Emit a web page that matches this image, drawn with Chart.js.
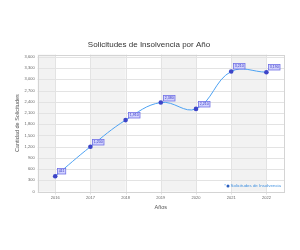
<!DOCTYPE html>
<html><head><meta charset="utf-8">
<script src="https://cdn.jsdelivr.net/npm/chart.js@4.4.0/dist/chart.umd.min.js"></script>
<style>html,body{margin:0;padding:0;background:#fff}</style>
</head><body>
<canvas id="c" width="300" height="250"></canvas>
<script>
const years = ['2016','2017','2018','2019','2020','2021','2022'];
const solicitudes = [411, 1200, 1910, 2380, 2210, 3210, 3190];
const yTicks = [0,300,600,900,1200,1500,1800,2100,2400,2700,3000,3300,3600];
const seriesName = 'Solicitudes de Insolvencia';
const titleText = 'Solicitudes de Insolvencia por Año';
const xTitle = 'Años';
const yTitle = 'Cantidad de Solicitudes';

const FONT = '"Liberation Sans", Arial, sans-serif';
const fmt = v => v.toLocaleString('en-US');

const bands = {
  id: 'bands',
  beforeDatasetsDraw(chart) {
    const {ctx, chartArea: a, scales: {x, y}} = chart;
    ctx.save();
    ctx.fillStyle = '#f2f2f2';
    const edges = [a.left];
    years.forEach((_, i) => edges.push(x.getPixelForValue(i)));
    edges.push(a.right);
    for (let i = 0; i < edges.length - 1; i += 2) {
      ctx.fillRect(edges[i], a.top, edges[i+1]-edges[i], a.bottom-a.top);
    }
    ctx.strokeStyle = '#e3e3e3';
    ctx.lineWidth = 1;
    yTicks.forEach(t => {
      const py = Math.round(y.getPixelForValue(t)) + 0.5;
      ctx.beginPath(); ctx.moveTo(a.left, py); ctx.lineTo(a.right, py); ctx.stroke();
    });
    years.forEach((_, i) => {
      const px = Math.round(x.getPixelForValue(i)) + 0.5;
      ctx.beginPath(); ctx.moveTo(px, a.top); ctx.lineTo(px, a.bottom + 3); ctx.stroke();
    });
    ctx.strokeStyle = '#d4d4d4';
    ctx.strokeRect(Math.round(a.left)+0.5, Math.round(a.top)+0.5, Math.round(a.right-a.left), Math.round(a.bottom-a.top));
    ctx.restore();
  }
};
const labelsPlugin = {
  id: 'dlabels',
  afterDatasetsDraw(chart) {
    const {ctx} = chart;
    const meta = chart.getDatasetMeta(0);
    ctx.save();
    ctx.font = '3.6px ' + FONT;
    ctx.textBaseline = 'middle';
    meta.data.forEach((pt, i) => {
      const txt = fmt(solicitudes[i]);
      const w = ctx.measureText(txt).width + 2.5;
      const h = 5.5;
      const bx = Math.round(pt.x + 2) + 0.5, by = Math.round(pt.y - 8) + 0.5;
      ctx.fillStyle = 'rgba(205,205,255,0.85)';
      ctx.fillRect(bx, by, w, h);
      ctx.strokeStyle = '#7070e6';
      ctx.lineWidth = 0.8;
      ctx.strokeRect(bx, by, w, h);
      ctx.fillStyle = '#3a3ac0';
      ctx.fillText(txt, bx + 1.25, by + h/2);
    });
    ctx.restore();
  }
};
const legendPlugin = {
  id: 'inlegend',
  afterDraw(chart) {
    const {ctx, chartArea: a} = chart;
    ctx.save();
    ctx.font = '4.4px ' + FONT;
    ctx.textBaseline = 'middle';
    ctx.textAlign = 'right';
    const tx = a.right - 3, ty = a.bottom - 5.5;
    const w = ctx.measureText(seriesName).width;
    ctx.fillStyle = '#3d8fe0';
    ctx.fillText(seriesName, tx, ty);
    ctx.beginPath(); ctx.arc(tx - w - 2.5, ty, 1.5, 0, Math.PI*2);
    ctx.fillStyle = '#2a5fbf'; ctx.fill();
    ctx.fillStyle = '#7fb6ee';
    ctx.fillRect(tx - w - 6, ty - 2, 1.2, 1.2);
    ctx.restore();
  }
};

new Chart(document.getElementById('c'), {
  type: 'line',
  data: {
    labels: years,
    datasets: [{
      label: seriesName,
      data: solicitudes,
      borderColor: '#4da2f3',
      borderWidth: 1,
      tension: 0.4,
      pointRadius: 2.3,
      pointBackgroundColor: '#3d45c8',
      pointBorderColor: '#3d45c8',
      pointBorderWidth: 0,
      fill: false
    }]
  },
  options: {
    responsive: false,
    animation: false,
    devicePixelRatio: 1,
    layout: {padding: {left: 14, right: 16, top: 40, bottom: 39}},
    plugins: {
      legend: {display: false},
      tooltip: {enabled: false},
      title: {display: true, text: titleText, color: '#333', font: {size: 8, family: FONT, weight: 'normal'}, padding: {top: 0, bottom: 5}}
    },
    scales: {
      x: {
        offset: true,
        grid: {display: false, drawTicks: false},
        border: {display: false},
        ticks: {color: '#666', font: {size: 4, family: FONT}, padding: 4},
        title: {display: true, text: xTitle, color: '#555', font: {size: 5.5, family: FONT}, padding: {top: 0, bottom: 0}}
      },
      y: {
        min: 0, max: 3660,
        afterBuildTicks: s => { s.ticks = yTicks.map(v => ({value: v})); },
        grid: {display: false, drawTicks: false},
        border: {display: false},
        ticks: {color: '#666', font: {size: 4, family: FONT}, padding: 3, callback: v => fmt(v)},
        title: {display: true, text: yTitle, color: '#555', font: {size: 5.5, family: FONT}, padding: {top: 0, bottom: 1}}
      }
    }
  },
  plugins: [bands, labelsPlugin, legendPlugin]
});
</script>
</body></html>
